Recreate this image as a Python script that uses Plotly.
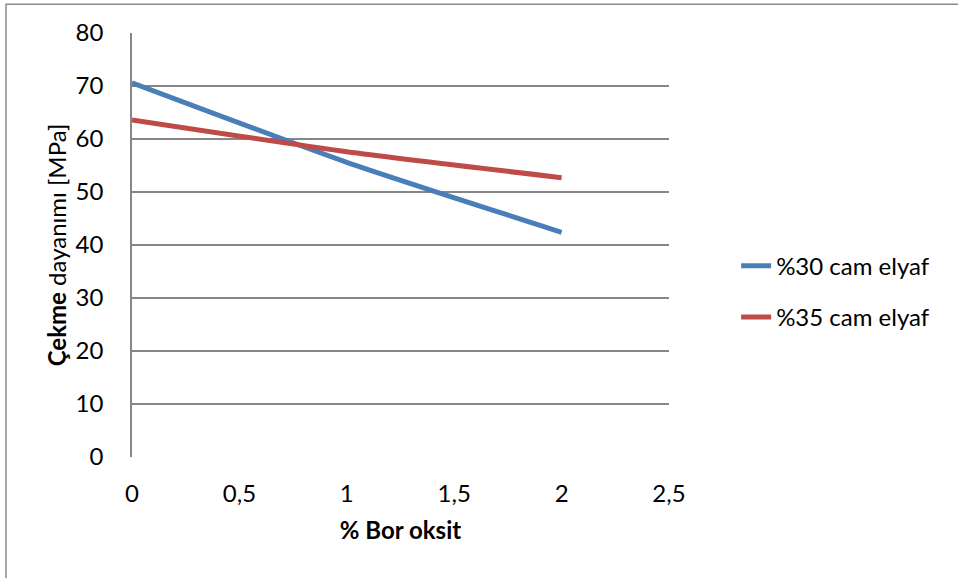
import plotly.graph_objects as go

# Boron oxide content (%) and tensile strength (MPa) per glass-fibre ratio
bor_oksit = [0, 1, 2]
cam30 = [70.6, 55.6, 42.4]
cam35 = [63.6, 57.6, 52.7]
seri_adlari = ["%30 cam elyaf", "%35 cam elyaf"]
seri_renkleri = ["#4A7EBB", "#BE4B48"]

x_ticks = [0, 0.5, 1, 1.5, 2, 2.5]
x_tick_text = ["0", "0,5", "1", "1,5", "2", "2,5"]
y_ticks = [0, 10, 20, 30, 40, 50, 60, 70, 80]

FONT = "Lato, Open Sans, sans-serif"
TICK_FONT = dict(family=FONT, size=24, color="black")
TITLE_FONT = dict(family=FONT, size=24, color="black")

fig = go.Figure()
for i, (ys, name, color) in enumerate(zip([cam30, cam35], seri_adlari, seri_renkleri)):
    fig.add_trace(go.Scatter(
        x=bor_oksit, y=ys, name=name, mode="lines", legendgroup=f"g{i}",
        line=dict(color=color, width=5, shape="spline", smoothing=0.6),
    ))

fig.update_layout(
    width=958, height=578,
    margin=dict(l=132, r=289, t=33, b=121),
    paper_bgcolor="white", plot_bgcolor="white",
    font=dict(family=FONT, size=24, color="black"),
    showlegend=True,
    legend=dict(
        x=1.125, y=0.39, xanchor="left", yanchor="middle",
        font=dict(family=FONT, size=24, color="black"), tracegroupgap=17,
        bgcolor="rgba(0,0,0,0)",
    ),
    xaxis=dict(
        range=[0, 2.5], tickvals=x_ticks, ticktext=x_tick_text,
        tickfont=TICK_FONT,
        showgrid=False, zeroline=False, showline=False,
        ticks="", ticklabelstandoff=20,
        title=dict(text="<b>% Bor oksit</b>", font=TITLE_FONT, standoff=16),
    ),
    yaxis=dict(
        range=[0, 80], tickvals=y_ticks, tickfont=TICK_FONT,
        showgrid=True, gridcolor="#868686", gridwidth=1.5,
        zeroline=False, showline=True, linecolor="#868686", linewidth=1.5,
        ticks="", ticklabelstandoff=22,
        title=dict(text="<b>Çekme</b> dayanımı [MPa]", font=TITLE_FONT, standoff=2),
    ),
)

# outer chart frame
fig.add_shape(type="rect", xref="paper", yref="paper",
              x0=-0.2346, x1=1.6, y0=-0.5, y1=1.068,
              line=dict(color="#8C8C8C", width=1.5), layer="below")

fig.write_html("out.html")
